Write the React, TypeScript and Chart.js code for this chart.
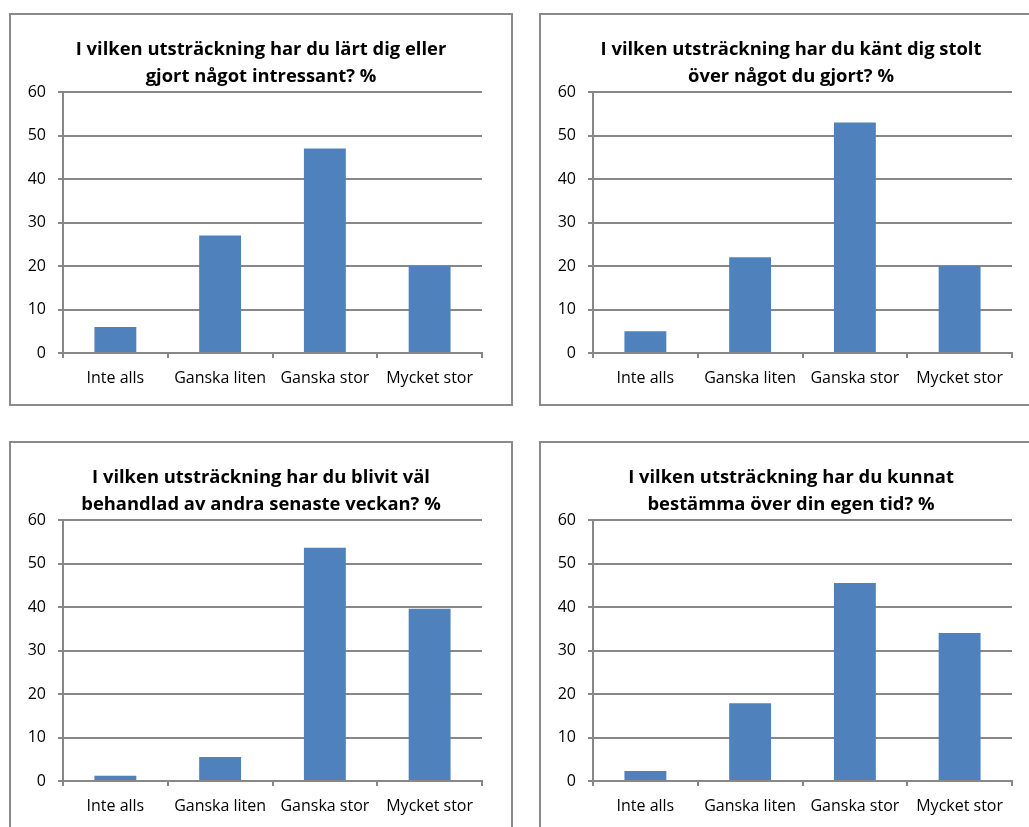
import React, { useEffect, useRef } from "react";
import { Chart, registerables } from "chart.js";

Chart.register(...registerables);

const categories = ["Inte alls", "Ganska liten", "Ganska stor", "Mycket stor"];
const yTicks = [0, 10, 20, 30, 40, 50, 60];

const lartValues = [6, 27, 47, 20];
const stoltValues = [5, 22, 53, 20];
const behandladValues = [1.2, 5.5, 53.6, 39.6];
const bestammaValues = [2.3, 17.9, 45.5, 34];

const lartTitle = ["I vilken utsträckning har du lärt dig eller", "gjort något intressant? %"];
const stoltTitle = ["I vilken utsträckning har du känt dig stolt", "över något du gjort? %"];
const behandladTitle = ["I vilken utsträckning har du blivit väl", "behandlad av andra senaste veckan? %"];
const bestammaTitle = ["I vilken utsträckning har du kunnat", "bestämma över din egen tid? %"];

const FONT = "'Open Sans', 'Noto Sans', sans-serif";
const GRID = "#878787";
const BAR = "#4F81BD";

const CANVAS_W = 500;
const CANVAS_H = 389;

const centerTitlePlugin = {
  id: "centerTitle",
  afterLayout(chart: any) {
    const t = chart.titleBlock;
    if (t) {
      t.left = 0;
      t.right = chart.width;
      t.width = chart.width;
    }
  },
};

function Panel({ left, top, title, values }: { left: number; top: number; title: string[]; values: number[] }) {
  const ref = useRef<HTMLCanvasElement | null>(null);
  useEffect(() => {
    if (!ref.current) return;
    const chart = new Chart(ref.current, {
      type: "bar",
      data: {
        labels: categories,
        datasets: [
          {
            data: values,
            backgroundColor: BAR,
            borderWidth: 0,
            barPercentage: 0.4,
            categoryPercentage: 1,
          },
        ],
      },
      plugins: [centerTitlePlugin],
      options: {
        animation: false,
        responsive: false,
        maintainAspectRatio: false,
        devicePixelRatio: 1,
        layout: { padding: { left: 0, right: 29, top: 0, bottom: 0 } },
        plugins: {
          legend: { display: false },
          tooltip: { enabled: false },
          title: {
            display: true,
            text: title,
            color: "#000",
            font: { family: FONT, size: 18.4, weight: "bold", lineHeight: "27px" },
            padding: { top: 21, bottom: 2 },
          },
        },
        scales: {
          x: {
            type: "category",
            offset: true,
            grid: {
              display: true,
              drawOnChartArea: false,
              drawTicks: true,
              tickLength: 5,
              color: GRID,
              lineWidth: 2,
              offset: true,
            },
            border: { display: true, color: GRID, width: 2 },
            ticks: {
              color: "#000",
              font: { family: FONT, size: 16 },
              padding: 11,
              maxRotation: 0,
              autoSkip: false,
            },
            afterFit: (s: any) => {
              s.height = 51;
            },
          },
          y: {
            min: 0,
            max: 60,
            afterBuildTicks: (s: any) => {
              s.ticks = yTicks.map((v) => ({ value: v }));
            },
            grid: {
              color: GRID,
              lineWidth: 2,
              tickLength: 5,
              drawTicks: true,
            },
            border: { display: true, color: GRID, width: 2 },
            ticks: {
              color: "#000",
              font: { family: FONT, size: 16 },
              padding: 12,
            },
            afterFit: (s: any) => {
              s.width = 52;
            },
          },
        },
      },
    });
    return () => chart.destroy();
  }, []);
  return (
    <div
      style={{
        position: "absolute",
        left,
        top,
        width: CANVAS_W + 4,
        height: CANVAS_H + 4,
        boxSizing: "border-box",
        border: "2px solid #8a8a8a",
        background: "#fff",
      }}
    >
      <canvas ref={ref} width={CANVAS_W} height={CANVAS_H} style={{ display: "block", width: CANVAS_W, height: CANVAS_H }} />
    </div>
  );
}

export default function App() {
  useEffect(() => {
    document.body.style.margin = "0";
    document.body.style.overflow = "hidden";
  }, []);
  return (
    <div style={{ position: "relative", width: 1029, height: 827, overflow: "hidden", background: "#fff" }}>
      <Panel left={9} top={13} title={lartTitle} values={lartValues} />
      <Panel left={539} top={13} title={stoltTitle} values={stoltValues} />
      <Panel left={9} top={441} title={behandladTitle} values={behandladValues} />
      <Panel left={539} top={441} title={bestammaTitle} values={bestammaValues} />
    </div>
  );
}
